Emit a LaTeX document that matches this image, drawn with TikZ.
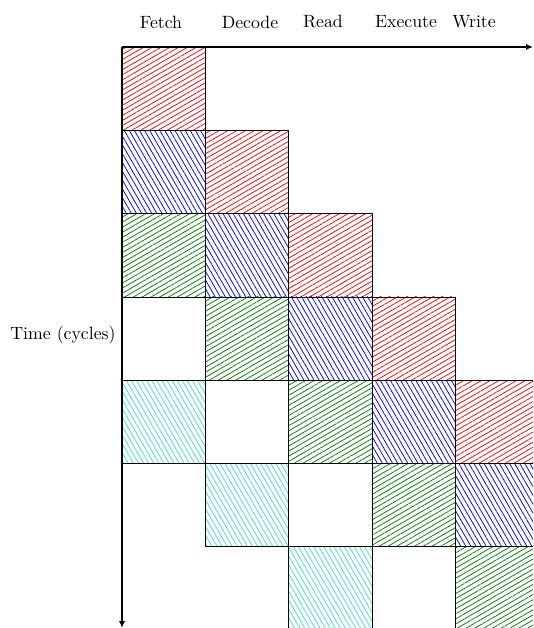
\documentclass[tikz,border=0pt]{standalone}
\usetikzlibrary{patterns.meta,arrows.meta}
\definecolor{turq}{RGB}{64,224,208}
\definecolor{dgreen}{RGB}{0,128,0}
\tikzset{
  cellbox/.style={draw=black,line width=0.4pt},
  hatchA/.style={cellbox,pattern={Lines[angle=30,distance=2.6pt,line width=0.45pt]},pattern color=#1},
  hatchB/.style={cellbox,pattern={Lines[angle=-60,distance=2.6pt,line width=0.45pt]},pattern color=#1},
  axis/.style={line width=0.8pt,-{Latex[length=4pt,width=3.5pt]}},
  lab/.style={font=\fontsize{10.5}{12}\selectfont,inner sep=0pt}
}
\begin{document}
\begin{tikzpicture}[x=0.591pt,y=-0.591pt]
\useasboundingbox (0,0) rectangle (533,628);
\clip (0,0) rectangle (533,628);
\def\cw{83.3}
% cells: row r, col c -> instruction r-c
\foreach \r/\c/\sty/\col in {
  0/0/hatchA/red, 1/1/hatchA/red, 2/2/hatchA/red, 3/3/hatchA/red, 4/4/hatchA/red,
  1/0/hatchB/blue, 2/1/hatchB/blue, 3/2/hatchB/blue, 4/3/hatchB/blue, 5/4/hatchB/blue,
  2/0/hatchA/dgreen, 3/1/hatchA/dgreen, 4/2/hatchA/dgreen, 5/3/hatchA/dgreen, 6/4/hatchA/dgreen,
  4/0/hatchB/turq, 5/1/hatchB/turq, 6/2/hatchB/turq}
{
  \path[\sty=\col] ({122+\c*\cw},{47+\r*\cw}) rectangle ++(\cw,\cw);
}
\coordinate (o) at (122,47);
\coordinate (xe) at (533,47);
\coordinate (ye) at (122,628);
\draw[axis] (o) -- (xe);
\draw[axis] (o) -- (ye);
\node[lab] (f) at (161,22) {Fetch};
\node[lab] (d) at (250,22) {Decode};
\node[lab] (r) at (323,22) {Read};
\node[lab] (e) at (406,22) {Execute};
\node[lab] (w) at (474,22) {Write};
\node[lab] (t) at (63,335) {Time (cycles)};
\end{tikzpicture}
\end{document}
